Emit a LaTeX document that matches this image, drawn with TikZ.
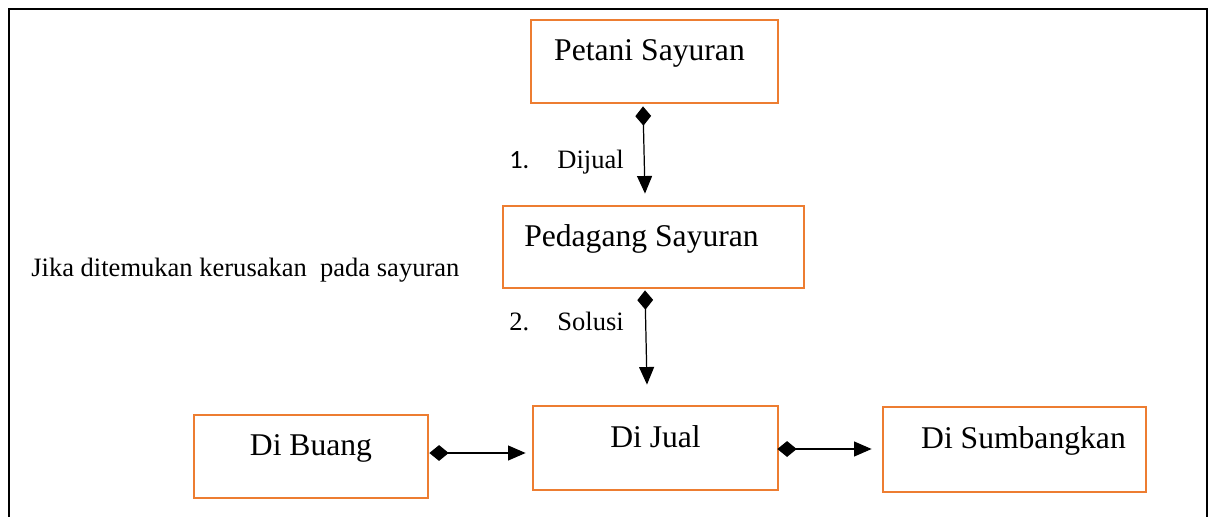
\documentclass[tikz,border=0pt]{standalone}
\usepackage{fontspec}
\setmainfont{Liberation Serif}
\newfontfamily\calibri{Carlito}
\usetikzlibrary{arrows.meta,positioning,calc}

\definecolor{boxorange}{RGB}{237,125,49}

\tikzset{
  stage/.style={draw=boxorange, line width=1.6pt, rectangle, inner sep=0pt,
    text height=12pt, text depth=13pt, font=\fontsize{18pt}{21pt}\selectfont},
  note/.style={inner sep=0pt, anchor=base west, font=\fontsize{15.1pt}{18pt}\selectfont},
  link/.style={line width=0.7pt, {Diamond[length=11pt,width=9pt]}-{Triangle[length=10pt,width=8.5pt]}}
}

\begin{document}
\begin{tikzpicture}[x=0.02cm, y=-0.02cm]

  \useasboundingbox (0,0) rectangle (1210,517);

  % outer frame
  \draw[line width=1pt] (9,517) -- (9,9) -- (1207,9) -- (1207,517);

  % Stages
  \node[stage, minimum width=49.4mm, minimum height=16.6mm] (petani) at (654.5,61.5) {Petani Sayuran\hspace*{2mm}};
  \node[stage, minimum width=60.2mm, minimum height=16.4mm] (pedagang) at (653.5,247) {Pedagang Sayuran\hspace*{4.8mm}};

  \node[stage, minimum width=46.8mm, minimum height=16.6mm] (diBuang) at (311,456.5) {Di Buang};
  \node[stage, minimum width=49mm, minimum height=16.8mm] (diJual) at (655.5,448) {Di Jual};
  \node[stage, minimum width=52.6mm, minimum height=17mm] (diSumbang) at (1014.5,449.5) {\hspace*{3.6mm}Di Sumbangkan};

  % Labels
  \node[note, font=\calibri\fontsize{15pt}{18pt}\selectfont] (numA) at (509,168) {1.};
  \node[note] (dijual) at (557,168) {Dijual};
  \node[note] (numB) at (509,330) {2.};
  \node[note] (solusi) at (557,330) {Solusi};
  \node[note] (jika) at (31,276) {Jika ditemukan kerusakan \ pada sayuran};

  % Links
  \draw[link] ($(petani.south)+(-11.5,2)$) -- ($(pedagang.north)+(-8.5,-11)$);
  \draw[link] ($(pedagang.south)+(-8.5,1)$) -- ($(diJual.north)+(-8.5,-20)$);
  \draw[link] ($(diBuang.east)+(0,-3.5)$) -- ($(diJual.west)+(-6,5)$);
  \draw[link] ($(diJual.east)+(-2,1)$) -- ($(diSumbang.west)+(-10,-0.5)$);

\end{tikzpicture}
\end{document}
